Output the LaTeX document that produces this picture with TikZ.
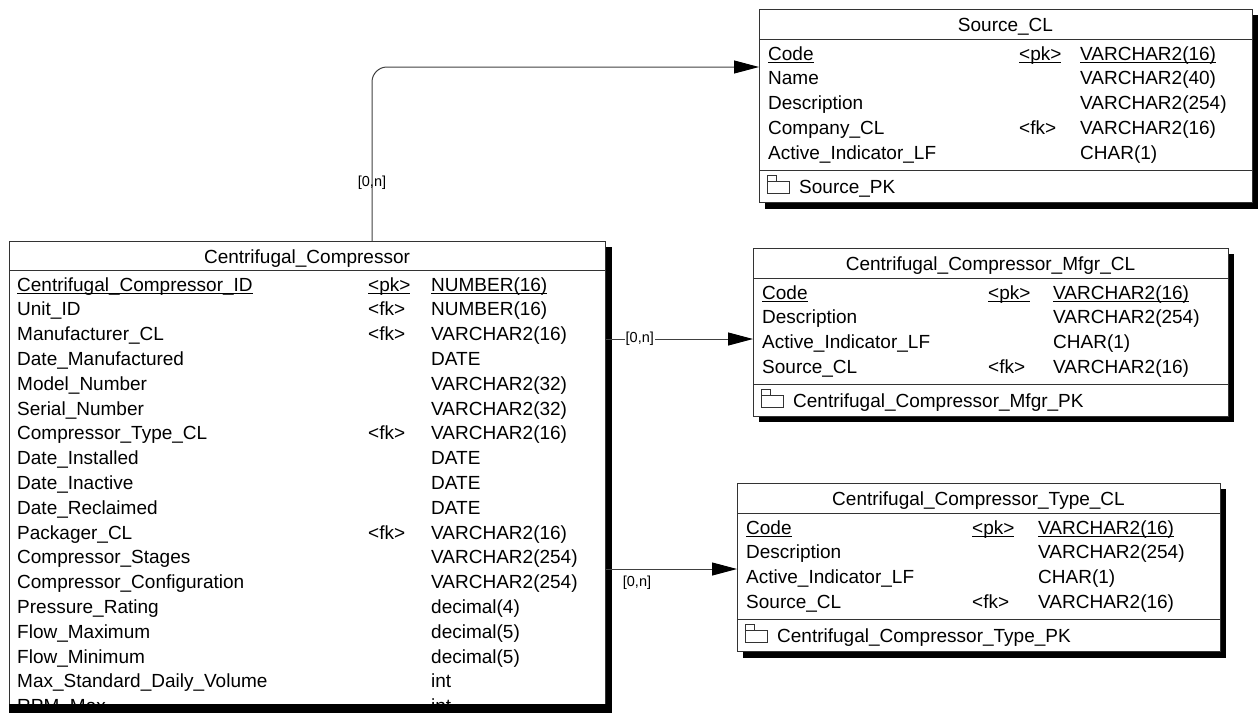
\documentclass[tikz,border=0pt]{standalone}
\usepackage{fontspec}
\setmainfont{Liberation Sans}
\usetikzlibrary{arrows.meta}
\newcommand\ulx[1]{\setbox0=\hbox{#1}\rlap{\rule[-3pt]{\wd0}{1.2pt}}\box0}
\newcommand\erow[7]{%
  \node[txt] at (#1,#4+7) {#5};
  \node[txt] at (#2,#4+7) {#6};
  \node[txt] at (#3,#4+7) {#7};}
\newcommand\pkicon[2]{%
  \draw[sepline] (#1,#2-5) rectangle (#1+22,#2+7);
  \draw[sepline] (#1,#2-11) rectangle (#1+9,#2-5);}
\begin{document}
\begin{tikzpicture}[x=1pt,y=-1pt,font=\fontsize{19}{22}\selectfont]
\tikzset{
  txt/.style={anchor=base west,inner sep=0pt},
  ttl/.style={anchor=base,inner sep=0pt},
  tbl/.style={draw=black!80,line width=1pt,fill=white,anchor=north west,inner sep=0pt},
  shade/.style={fill=black},
  sepline/.style={draw=black!80,line width=1pt},
  conn/.style={draw=black!75,line width=1pt},
  tip/.style={-{Triangle[length=25pt,width=13pt,fill=black,color=black]}},
  card/.style={font=\fontsize{14.5}{16}\selectfont,inner sep=1pt},
}
\useasboundingbox (0,0) rectangle (1258,713);

% ---------------- Source_CL
\fill[shade] (765,15) rectangle (1258,209);
\node[tbl,minimum width=493pt,minimum height=193pt] (src) at (759,9) {};
\node[ttl] (srct) at (1005.5,31) {Source\_CL};
\draw[sepline] (759,39) -- (1252,39);
\erow{768}{1019}{1080}{53}{\ulx{Code}}{\ulx{<pk>}}{\ulx{VARCHAR2(16)}}
\erow{768}{1019}{1080}{77.8}{Name}{}{VARCHAR2(40)}
\erow{768}{1019}{1080}{102.6}{Description}{}{VARCHAR2(254)}
\erow{768}{1019}{1080}{127.4}{Company\_CL}{<fk>}{VARCHAR2(16)}
\erow{768}{1019}{1080}{152.2}{Active\_Indicator\_LF}{}{CHAR(1)}
\draw[sepline] (759,170) -- (1252,170);
\pkicon{767}{186}
\node[txt] (srcpk) at (799,193) {Source\_PK};

% ---------------- Centrifugal_Compressor_Mfgr_CL
\fill[shade] (759,254) rectangle (1234,422);
\node[tbl,minimum width=475pt,minimum height=168pt] (mfgr) at (753,248) {};
\node[ttl] (mfgrt) at (990.5,270) {Centrifugal\_Compressor\_Mfgr\_CL};
\draw[sepline] (753,278) -- (1228,278);
\erow{762}{988}{1053}{292}{\ulx{Code}}{\ulx{<pk>}}{\ulx{VARCHAR2(16)}}
\erow{762}{988}{1053}{316.8}{Description}{}{VARCHAR2(254)}
\erow{762}{988}{1053}{341.6}{Active\_Indicator\_LF}{}{CHAR(1)}
\erow{762}{988}{1053}{366.4}{Source\_CL}{<fk>}{VARCHAR2(16)}
\draw[sepline] (753,384) -- (1228,384);
\pkicon{761}{400}
\node[txt] (mfgrpk) at (793,407) {Centrifugal\_Compressor\_Mfgr\_PK};

% ---------------- Centrifugal_Compressor_Type_CL
\fill[shade] (743,489) rectangle (1226,658);
\node[tbl,minimum width=483pt,minimum height=168pt] (type) at (737,483) {};
\node[ttl] (typet) at (978.5,505) {Centrifugal\_Compressor\_Type\_CL};
\draw[sepline] (737,513) -- (1220,513);
\erow{746}{972}{1038}{527}{\ulx{Code}}{\ulx{<pk>}}{\ulx{VARCHAR2(16)}}
\erow{746}{972}{1038}{551.8}{Description}{}{VARCHAR2(254)}
\erow{746}{972}{1038}{576.6}{Active\_Indicator\_LF}{}{CHAR(1)}
\erow{746}{972}{1038}{601.4}{Source\_CL}{<fk>}{VARCHAR2(16)}
\draw[sepline] (737,619) -- (1220,619);
\pkicon{745}{635}
\node[txt] (typepk) at (777,642) {Centrifugal\_Compressor\_Type\_PK};

% ---------------- Centrifugal_Compressor
\fill[shade] (15,247) rectangle (612,713);
\node[tbl,minimum width=596pt,minimum height=463pt] (main) at (9,241) {};
\node[ttl] (maint) at (307,263) {Centrifugal\_Compressor};
\draw[sepline] (9,270) -- (605,270);
\begin{scope}
\clip (9,270) rectangle (605,704);
\erow{17}{368}{431}{284}{\ulx{Centrifugal\_Compressor\_ID}}{\ulx{<pk>}}{\ulx{NUMBER(16)}}
\erow{17}{368}{431}{308.8}{Unit\_ID}{<fk>}{NUMBER(16)}
\erow{17}{368}{431}{333.6}{Manufacturer\_CL}{<fk>}{VARCHAR2(16)}
\erow{17}{368}{431}{358.4}{Date\_Manufactured}{}{DATE}
\erow{17}{368}{431}{383.2}{Model\_Number}{}{VARCHAR2(32)}
\erow{17}{368}{431}{408}{Serial\_Number}{}{VARCHAR2(32)}
\erow{17}{368}{431}{432.8}{Compressor\_Type\_CL}{<fk>}{VARCHAR2(16)}
\erow{17}{368}{431}{457.6}{Date\_Installed}{}{DATE}
\erow{17}{368}{431}{482.4}{Date\_Inactive}{}{DATE}
\erow{17}{368}{431}{507.2}{Date\_Reclaimed}{}{DATE}
\erow{17}{368}{431}{532}{Packager\_CL}{<fk>}{VARCHAR2(16)}
\erow{17}{368}{431}{556.8}{Compressor\_Stages}{}{VARCHAR2(254)}
\erow{17}{368}{431}{581.6}{Compressor\_Configuration}{}{VARCHAR2(254)}
\erow{17}{368}{431}{606.4}{Pressure\_Rating}{}{decimal(4)}
\erow{17}{368}{431}{631.2}{Flow\_Maximum}{}{decimal(5)}
\erow{17}{368}{431}{656}{Flow\_Minimum}{}{decimal(5)}
\erow{17}{368}{431}{680.8}{Max\_Standard\_Daily\_Volume}{}{int}
\erow{17}{368}{431}{705.6}{RPM\_Max}{}{int}
\end{scope}
\fill[shade] (9,704) rectangle (612,713);

% ---------------- connectors
\coordinate (k1) at (372,67);
\coordinate (k2) at (0,339);
\coordinate (k3) at (0,569);
\draw[conn,tip,rounded corners=15pt] (main.north -| k1) |- (src.west |- k1);
\node[card] (c1) at (372,183) {[0,n]};
\draw[conn,tip] (main.east |- k2) -- node[card,fill=white,pos=0.23] (c2) {[0,n]} (mfgr.west |- k2);
\draw[conn,tip] (main.east |- k3) -- (type.west |- k3);
\node[card] (c3) at (637,583) {[0,n]};
\end{tikzpicture}
\end{document}
